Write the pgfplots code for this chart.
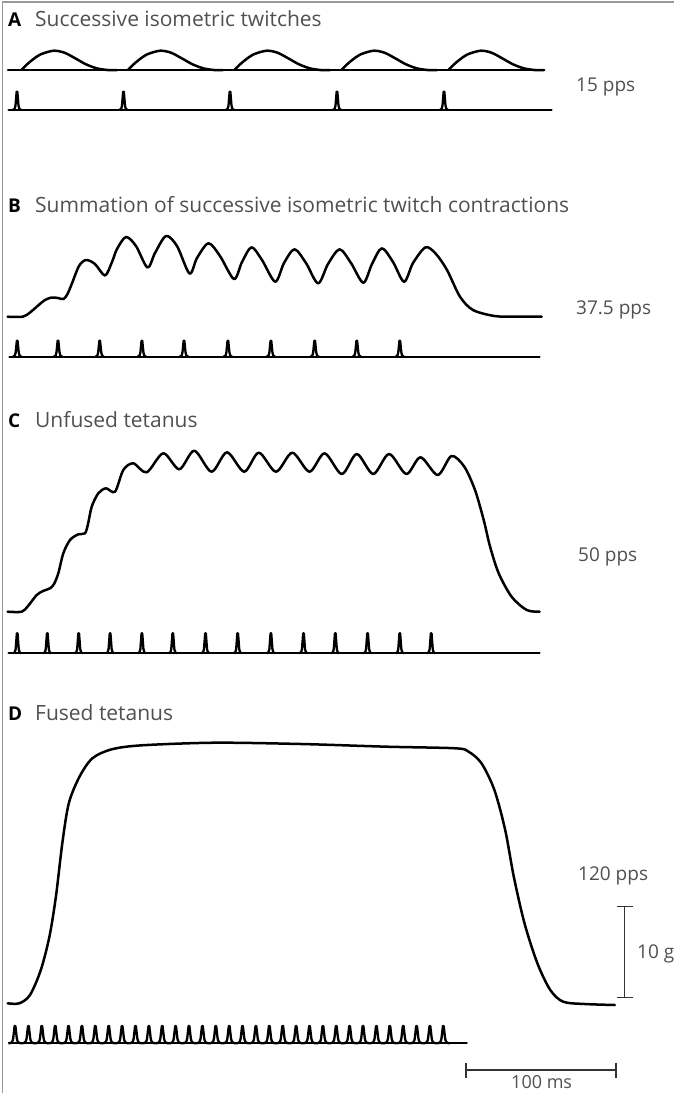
\documentclass[border=0pt]{standalone}
\usepackage{pgfplots}
\pgfplotsset{compat=1.18}
\usepackage{fontspec}
\setmainfont{Open Sans}

% stimulus pulse: a narrow peak with flared feet, height = mark size
\pgfdeclareplotmark{stim}{%
  \pgfpathmoveto{\pgfqpoint{-4.2pt}{0pt}}%
  \pgfpathcurveto{\pgfqpoint{-2.4pt}{0pt}}{\pgfqpoint{-1.9pt}{1.5pt}}{\pgfqpoint{-1.5pt}{4.5pt}}%
  \pgfpathlineto{\pgfqpoint{-0.35pt}{\pgfplotmarksize}}%
  \pgfpathlineto{\pgfqpoint{0.35pt}{\pgfplotmarksize}}%
  \pgfpathlineto{\pgfqpoint{1.5pt}{4.5pt}}%
  \pgfpathcurveto{\pgfqpoint{1.9pt}{1.5pt}}{\pgfqpoint{2.4pt}{0pt}}{\pgfqpoint{4.2pt}{0pt}}%
  \pgfusepathqstroke}
% pulse of the fast train: feet reach the neighbouring pulses
\pgfdeclareplotmark{stimfast}{%
  \pgfpathmoveto{\pgfqpoint{-6.7pt}{0pt}}%
  \pgfpathcurveto{\pgfqpoint{-3.2pt}{0pt}}{\pgfqpoint{-2.4pt}{1.5pt}}{\pgfqpoint{-1.8pt}{5pt}}%
  \pgfpathlineto{\pgfqpoint{-0.4pt}{\pgfplotmarksize}}%
  \pgfpathlineto{\pgfqpoint{0.4pt}{\pgfplotmarksize}}%
  \pgfpathlineto{\pgfqpoint{1.8pt}{5pt}}%
  \pgfpathcurveto{\pgfqpoint{2.4pt}{1.5pt}}{\pgfqpoint{3.2pt}{0pt}}{\pgfqpoint{6.7pt}{0pt}}%
  \pgfusepathqstroke}

\definecolor{txt}{HTML}{505050}
\definecolor{bar}{HTML}{333333}

\tikzset{
  trace/.style={black, line width=2.5pt, line join=round, line cap=round},
  stimline/.style={black, line width=2.3pt, line cap=round},
  pulses/.style={only marks, mark=stim, mark options={line width=2.3pt, line join=round, black}},
  scalebar/.style={bar, line width=1.8pt},
  ttl/.style={anchor=base west, text=txt, font=\fontsize{21}{25}\selectfont, inner sep=0pt},
  lett/.style={anchor=base west, text=black, font=\fontsize{19}{24}\selectfont\bfseries, inner sep=0pt},
  lab/.style={anchor=base west, text=txt, font=\fontsize{19}{22}\selectfont, inner sep=0pt},
}

\begin{document}
\begin{tikzpicture}
\begin{axis}[
  width=674pt, height=1093pt, scale only axis,
  xmin=0, xmax=674, ymin=0, ymax=1093, y dir=reverse,
  hide axis, clip=false,
]
% frame
\addplot[draw=black!40, line width=1.2pt] coordinates {(2.5,1093) (2.5,2) (674,2)};

% ---------------- A: 15 pps ----------------
\addplot[trace] coordinates {(8,70) (544,70)};
\addplot[trace, smooth] coordinates {(21.5,70) (25.8,65.5) (32.2,60) (40.8,54.3) (53.7,50.7) (64.5,52.7) (75.2,58.3) (86,64.3) (96.7,68.3) (107.5,70) (117,70)};
\addplot[trace, smooth] coordinates {(128,70) (132.3,65.5) (138.7,60) (147.3,54.3) (160.2,50.7) (171,52.7) (181.7,58.3) (192.5,64.3) (203.2,68.3) (214,70) (223,70)};
\addplot[trace, smooth] coordinates {(234.5,70) (238.8,65.5) (245.2,60) (253.8,54.3) (266.7,50.7) (277.5,52.7) (288.2,58.3) (299,64.3) (309.7,68.3) (320.5,70) (330,70)};
\addplot[trace, smooth] coordinates {(341.5,70) (345.8,65.5) (352.2,60) (360.8,54.3) (373.7,50.7) (384.5,52.7) (395.2,58.3) (406,64.3) (416.7,68.3) (427.5,70) (437,70)};
\addplot[trace, smooth] coordinates {(448.5,70) (452.8,65.5) (459.2,60) (467.8,54.3) (480.7,50.7) (491.5,52.7) (502.2,58.3) (513,64.3) (523.7,68.3) (534.5,70) (544,70)};
\addplot[stimline] coordinates {(8.6,110) (551.6,110)};
\addplot[pulses, mark size=18.3pt] coordinates {(17,110) (123.5,110) (230,110) (337,110) (444,110)};

% ---------------- B: 37.5 pps ----------------
\addplot[trace, smooth] coordinates {
 (7.7,316.7) (22.7,316.7) (30,312.5) (38.7,305) (45,300) (51.6,297.5) (58,298) (63.5,299)
 (67.5,294) (72,283.3) (79,266) (86,260) (95,264) (105,275.5)
 (112,262) (117,249) (126,237) (136,246) (147.5,267.5)
 (155,253) (166,236) (177,246) (189.5,273.5)
 (197,258) (208.5,243.3) (220,256) (234,279)
 (242,262) (251.5,247.3) (262,260) (275.2,281.7)
 (284,263) (294.5,249.3) (306,263) (318.1,283.3)
 (328,264) (339.6,249.3) (351,263) (363.3,282.7)
 (372,264) (381.8,248.3) (393,262) (404.1,281.7)
 (413,263) (425.6,247.3) (436,254) (447,270) (460,296.7) (473,310) (494.4,316) (515,316.7) (541.7,316.7)};
\addplot[stimline] coordinates {(9.5,356.7) (539.6,356.7)};
\addplot[pulses, mark size=16pt] coordinates {(17.2,356.7) (58,356.7) (99.7,356.7) (141.9,356.7) (184,356.7) (227.9,356.7) (270.9,356.7) (314.7,356.7) (356.8,356.7) (399.8,356.7)};

% ---------------- C: 50 pps ----------------
\addplot[trace, smooth] coordinates {
 (7.7,611.7) (21.7,611.7) (28,606) (36.7,595) (43,591) (50,588.3) (54,584)
 (58.3,573.3) (63.3,553.3) (70,540) (78.3,534.3) (85,533.3) (88,524)
 (91.7,506.7) (98.3,493.3) (106,488.3) (115,491.7)
 (123.3,470) (133.3,463.3) (146.7,472.3)
 (163.3,453.3) (179.3,469.3) (194.3,450.7) (211.5,471.7)
 (227,452.3) (244.2,471.7) (258.8,452.7) (276,471.7)
 (292.3,452.7) (309.5,471.7) (324.6,453.3) (341.8,474)
 (356.8,454) (373.2,474) (389.1,454) (406.3,474)
 (420.5,457.3) (437.7,475) (451.4,456)
 (464.3,466.7) (475,490) (483.7,520) (490.1,546.7) (498.7,573.3) (511.6,596.7) (526.7,610) (539.6,611.7)};
\addplot[stimline] coordinates {(8.6,653.3) (539.6,653.3)};
\addplot[pulses, mark size=20pt] coordinates {(17.2,653.3) (47.3,653.3) (78.7,653.3) (110.1,653.3) (141.9,653.3) (172.8,653.3) (205.5,653.3) (237.7,653.3) (270.9,653.3) (303.5,653.3) (335.3,653.3) (367.6,653.3) (399.8,653.3) (431.2,653.3)};

% ---------------- D: 120 pps ----------------
\addplot[trace, smooth] coordinates {
 (7.7,1003.3) (19.3,1003.3) (30,995) (40.8,970) (49.4,936.7) (55.9,896.7) (62.3,843.3) (68.8,803.3)
 (79.5,776.7) (92.4,758.3) (111.8,749.3) (141.9,745.3) (215,742.7) (301,744) (387,746.7) (455.7,748.3)
 (468.6,751.7) (481.5,763.3) (494.4,790) (505.2,830) (513.8,876.7) (524.5,923.3) (537.4,963.3)
 (550.3,990) (563.2,1001.7) (584.7,1004) (614.8,1005)};
\addplot[stimline] coordinates {(10,1043.3) (466.7,1043.3)};
\addplot[pulses, mark=stimfast, mark size=17.3pt] coordinates {
 (15.0,1043.3) (28.4,1043.3) (41.8,1043.3) (55.2,1043.3) (68.5,1043.3) (81.9,1043.3) (95.3,1043.3)
 (108.7,1043.3) (122.1,1043.3) (135.5,1043.3) (148.9,1043.3) (162.2,1043.3) (175.6,1043.3) (189.0,1043.3)
 (202.4,1043.3) (215.8,1043.3) (229.2,1043.3) (242.5,1043.3) (255.9,1043.3) (269.3,1043.3) (282.7,1043.3)
 (296.1,1043.3) (309.5,1043.3) (322.9,1043.3) (336.2,1043.3) (349.6,1043.3) (363.0,1043.3) (376.4,1043.3)
 (389.8,1043.3) (403.2,1043.3) (416.6,1043.3) (429.9,1043.3) (443.3,1043.3)};

% scale bars: 10 g and 100 ms
\addplot[scalebar] coordinates {(624.5,906.5) (624.5,997.5)};
\addplot[scalebar] coordinates {(616.5,906.5) (632.5,906.5)};
\addplot[scalebar] coordinates {(616.5,997.5) (632.5,997.5)};
\addplot[scalebar] coordinates {(466,1070) (616,1070)};
\addplot[scalebar] coordinates {(466,1062.5) (466,1077.5)};
\addplot[scalebar] coordinates {(616,1062.5) (616,1077.5)};

% panel titles
\node[lett] at (axis cs:8,26) {A};
\node[ttl]  at (axis cs:35,26) {Successive isometric twitches};
\node[lett] at (axis cs:8,212) {B};
\node[ttl]  at (axis cs:35,212) {Summation of successive isometric twitch contractions};
\node[lett] at (axis cs:8,427) {C};
\node[ttl]  at (axis cs:35,427) {Unfused tetanus};
\node[lett] at (axis cs:8,720) {D};
\node[ttl]  at (axis cs:35,720) {Fused tetanus};

% stimulation rates and scale labels
\node[lab] at (axis cs:576,91.5) {15 pps};
\node[lab] at (axis cs:576,314.5) {37.5 pps};
\node[lab] at (axis cs:578,561.5) {50 pps};
\node[lab] at (axis cs:578,880.5) {120 pps};
\node[lab] at (axis cs:637,958) {10 g};
\node[lab, font=\fontsize{18}{21}\selectfont] at (axis cs:511,1088.5) {100 ms};
\end{axis}
\pgfresetboundingbox
\useasboundingbox (current axis.south west) rectangle (current axis.north east);
\end{tikzpicture}
\end{document}
